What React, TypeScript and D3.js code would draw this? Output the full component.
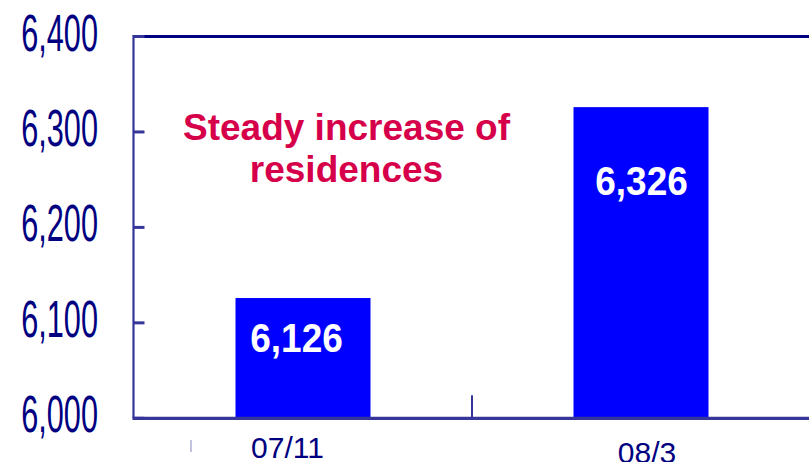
import React from "react";
import * as d3 from "d3";

// Residences count by period
const categories: string[] = ["07/11", "08/3"];
const residences: number[] = [6126, 6326];
const valueLabels: string[] = ["6,126", "6,326"];
const yTickValues: number[] = [6000, 6100, 6200, 6300, 6400];
const noteLines: string[] = ["Steady increase of", "residences"];

const W = 809;
const H = 462;
const FONT = "'Liberation Sans', Arial, Helvetica, sans-serif";
const AXIS = "#35359a";
const NAVY = "#000080";
const BAR = "#0000ff";
const NOTE = "#d6004a";

// layout tweaks for text placement
const valueLabelDx = [-6.5, 0.5];
const valueLabelDy = [54, 88];
const catLabelDx = [-15.5, 6];

export default function App() {
  const left = 133.5;
  const right = 810;
  const yScale = d3.scaleLinear().domain([6000, 6400]).range([418.3, 36.5]);
  const xScale = d3.scalePoint<string>().domain(categories).range([134, 810]).padding(0.5);
  const step = xScale.step();
  const barW = 135;
  const fmt = d3.format(",");

  return (
    <svg
      width={W}
      height={H}
      style={{ position: "absolute", left: 0, top: 0, background: "#fff" }}
      fontFamily={FONT}
    >
      <rect x={0} y={0} width={W} height={H} fill="#fff" />

      {/* bars */}
      {categories.map((c, i) => {
        const cx = xScale(c)!;
        const y = yScale(residences[i]);
        return (
          <rect
            key={c}
            x={cx - barW / 2}
            y={y}
            width={barW}
            height={yScale(6000) - y}
            fill={BAR}
          />
        );
      })}

      {/* top frame line */}
      <line x1={left} x2={right} y1={yScale(6400)} y2={yScale(6400)} stroke={NAVY} strokeWidth={3} />

      {/* y axis */}
      <line x1={left} x2={left} y1={yScale(6400) - 1.5} y2={yScale(6000)} stroke={AXIS} strokeWidth={2.2} />
      {yTickValues.map((t) => (
        <line key={"t" + t} x1={left} x2={left + 11} y1={yScale(t)} y2={yScale(t)} stroke={AXIS} strokeWidth={3} />
      ))}
      {yTickValues.map((t) => (
        <text
          key={"l" + t}
          transform={`translate(98, ${yScale(t) + 14}) scale(0.59, 1)`}
          textAnchor="end"
          fontSize={52}
          fill={NAVY}
        >
          {fmt(t)}
        </text>
      ))}

      {/* x axis */}
      <line x1={left - 1} x2={right} y1={yScale(6000)} y2={yScale(6000)} stroke={AXIS} strokeWidth={3.2} />
      {categories.slice(1).map((c) => {
        const x = xScale(c)! - step / 2;
        return <line key={"xt" + c} x1={x} x2={x} y1={yScale(6000) - 23} y2={yScale(6000)} stroke={AXIS} strokeWidth={2} />;
      })}
      <line x1={191} x2={191} y1={440} y2={452} stroke="#9a9ac8" strokeWidth={1.2} />
      {categories.map((c, i) => (
        <text
          key={"xl" + c}
          x={xScale(c)! + catLabelDx[i]}
          y={i === 0 ? 458 : 462.5}
          textAnchor="middle"
          fontSize={30}
          fill={NAVY}
        >
          {c}
        </text>
      ))}

      {/* value labels */}
      {categories.map((c, i) => (
        <text
          key={"v" + c}
          transform={`translate(${xScale(c)! + valueLabelDx[i]}, ${yScale(residences[i]) + valueLabelDy[i]}) scale(1, 1.08)`}
          textAnchor="middle"
          fontSize={37}
          fontWeight="bold"
          fill="#fff"
        >
          {valueLabels[i]}
        </text>
      ))}

      {/* note */}
      {noteLines.map((line, i) => (
        <text
          key={"n" + i}
          x={346.5}
          y={140 + i * 42}
          textAnchor="middle"
          fontSize={37}
          fontWeight="bold"
          fill={NOTE}
        >
          {line}
        </text>
      ))}
    </svg>
  );
}
